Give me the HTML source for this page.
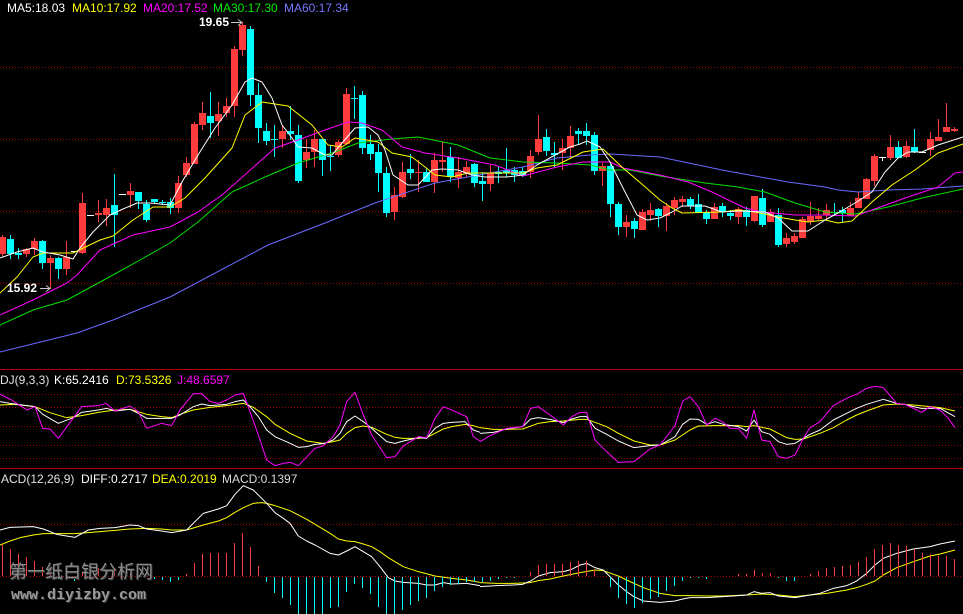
<!DOCTYPE html>
<html><head><meta charset="utf-8"><style>
html,body{margin:0;padding:0;background:#000;}
svg{display:block;}
text{font-family:"Liberation Sans","Noto Sans CJK SC",sans-serif;font-size:12px;}
</style></head><body>
<svg width="963" height="614" viewBox="0 0 963 614" xmlns="http://www.w3.org/2000/svg">
<rect width="963" height="614" fill="#000"/>
<g stroke="#a00000" stroke-width="1" stroke-dasharray="1 2" shape-rendering="crispEdges">
<line x1="0" y1="67.5" x2="963" y2="67.5"/>
<line x1="0" y1="139.5" x2="963" y2="139.5"/>
<line x1="0" y1="211.5" x2="963" y2="211.5"/>
<line x1="0" y1="283.5" x2="963" y2="283.5"/>
<line x1="0" y1="394.5" x2="963" y2="394.5"/>
<line x1="0" y1="407.5" x2="963" y2="407.5"/>
<line x1="0" y1="426.5" x2="963" y2="426.5"/>
<line x1="0" y1="445.5" x2="963" y2="445.5"/>
<line x1="0" y1="458.5" x2="963" y2="458.5"/>
<line x1="0" y1="524.5" x2="963" y2="524.5"/>
<line x1="0" y1="576.5" x2="963" y2="576.5"/>
</g>
<g stroke="#b80000" stroke-width="1" shape-rendering="crispEdges">
<line x1="0" y1="369.5" x2="963" y2="369.5"/>
<line x1="0" y1="468.5" x2="963" y2="468.5"/>
</g>
<g fill="#ff3c3c" shape-rendering="crispEdges">
<rect x="2" y="235" width="1" height="22"/><rect x="-1" y="237" width="7" height="17"/>
<rect x="26" y="248" width="1" height="9"/><rect x="23" y="249" width="7" height="5"/>
<rect x="34" y="238" width="1" height="17"/><rect x="31" y="241" width="7" height="8"/>
<rect x="50" y="255" width="1" height="34"/><rect x="47" y="258" width="7" height="5"/>
<rect x="66" y="241" width="1" height="34"/><rect x="63" y="257" width="7" height="12"/>
<rect x="82" y="193" width="1" height="61"/><rect x="79" y="203" width="7" height="50"/>
<rect x="98" y="200" width="1" height="22"/><rect x="95" y="213" width="7" height="2"/>
<rect x="106" y="199" width="1" height="27"/><rect x="103" y="208" width="7" height="7"/>
<rect x="130" y="183" width="1" height="25"/><rect x="127" y="191" width="7" height="4"/>
<rect x="178" y="176" width="1" height="37"/><rect x="175" y="183" width="7" height="25"/>
<rect x="186" y="157" width="1" height="20"/><rect x="183" y="163" width="7" height="12"/>
<rect x="194" y="122" width="1" height="42"/><rect x="191" y="124" width="7" height="40"/>
<rect x="202" y="102" width="1" height="28"/><rect x="199" y="113" width="7" height="12"/>
<rect x="218" y="102" width="1" height="34"/><rect x="215" y="114" width="7" height="7"/>
<rect x="226" y="98" width="1" height="19"/><rect x="223" y="106" width="7" height="7"/>
<rect x="234" y="46" width="1" height="71"/><rect x="231" y="49" width="7" height="57"/>
<rect x="242" y="22" width="1" height="34"/><rect x="239" y="25" width="7" height="25"/>
<rect x="282" y="126" width="1" height="22"/><rect x="279" y="131" width="7" height="8"/>
<rect x="306" y="139" width="1" height="29"/><rect x="303" y="152" width="7" height="8"/>
<rect x="314" y="130" width="1" height="37"/><rect x="311" y="139" width="7" height="13"/>
<rect x="338" y="140" width="1" height="17"/><rect x="335" y="142" width="7" height="13"/>
<rect x="346" y="88" width="1" height="57"/><rect x="343" y="94" width="7" height="50"/>
<rect x="394" y="187" width="1" height="33"/><rect x="391" y="195" width="7" height="17"/>
<rect x="402" y="162" width="1" height="36"/><rect x="399" y="172" width="7" height="25"/>
<rect x="418" y="160" width="1" height="32"/><rect x="415" y="172" width="7" height="1"/>
<rect x="434" y="153" width="1" height="40"/><rect x="431" y="160" width="7" height="22"/>
<rect x="442" y="142" width="1" height="30"/><rect x="439" y="160" width="7" height="2"/>
<rect x="458" y="157" width="1" height="31"/><rect x="455" y="172" width="7" height="6"/>
<rect x="466" y="161" width="1" height="16"/><rect x="463" y="167" width="7" height="6"/>
<rect x="490" y="165" width="1" height="26"/><rect x="487" y="173" width="7" height="11"/>
<rect x="530" y="150" width="1" height="28"/><rect x="527" y="156" width="7" height="16"/>
<rect x="538" y="115" width="1" height="40"/><rect x="535" y="139" width="7" height="13"/>
<rect x="562" y="139" width="1" height="31"/><rect x="559" y="148" width="7" height="5"/>
<rect x="570" y="126" width="1" height="32"/><rect x="567" y="136" width="7" height="12"/>
<rect x="602" y="163" width="1" height="23"/><rect x="599" y="166" width="7" height="5"/>
<rect x="626" y="215" width="1" height="22"/><rect x="623" y="222" width="7" height="5"/>
<rect x="642" y="209" width="1" height="21"/><rect x="639" y="212" width="7" height="18"/>
<rect x="650" y="203" width="1" height="18"/><rect x="647" y="210" width="7" height="5"/>
<rect x="666" y="203" width="1" height="28"/><rect x="663" y="206" width="7" height="10"/>
<rect x="674" y="197" width="1" height="18"/><rect x="671" y="200" width="7" height="8"/>
<rect x="682" y="196" width="1" height="11"/><rect x="679" y="199" width="7" height="3"/>
<rect x="714" y="203" width="1" height="16"/><rect x="711" y="207" width="7" height="12"/>
<rect x="738" y="207" width="1" height="17"/><rect x="735" y="209" width="7" height="8"/>
<rect x="754" y="196" width="1" height="26"/><rect x="751" y="196" width="7" height="25"/>
<rect x="770" y="209" width="1" height="13"/><rect x="767" y="212" width="7" height="10"/>
<rect x="786" y="233" width="1" height="14"/><rect x="783" y="238" width="7" height="6"/>
<rect x="794" y="233" width="1" height="11"/><rect x="791" y="236" width="7" height="6"/>
<rect x="802" y="217" width="1" height="21"/><rect x="799" y="219" width="7" height="19"/>
<rect x="810" y="202" width="1" height="23"/><rect x="807" y="216" width="7" height="6"/>
<rect x="818" y="208" width="1" height="12"/><rect x="815" y="216" width="7" height="3"/>
<rect x="826" y="204" width="1" height="16"/><rect x="823" y="210" width="7" height="5"/>
<rect x="850" y="202" width="1" height="14"/><rect x="847" y="208" width="7" height="8"/>
<rect x="858" y="192" width="1" height="16"/><rect x="855" y="198" width="7" height="10"/>
<rect x="866" y="178" width="1" height="21"/><rect x="863" y="179" width="7" height="20"/>
<rect x="874" y="154" width="1" height="32"/><rect x="871" y="156" width="7" height="25"/>
<rect x="890" y="135" width="1" height="25"/><rect x="887" y="147" width="7" height="11"/>
<rect x="906" y="141" width="1" height="17"/><rect x="903" y="146" width="7" height="11"/>
<rect x="930" y="132" width="1" height="24"/><rect x="927" y="139" width="7" height="11"/>
<rect x="938" y="119" width="1" height="22"/><rect x="935" y="137" width="7" height="4"/>
<rect x="946" y="103" width="1" height="29"/><rect x="943" y="127" width="7" height="5"/>
<rect x="954" y="127" width="1" height="5"/><rect x="951" y="129" width="7" height="2"/>
</g>
<g fill="#00ffff" shape-rendering="crispEdges">
<rect x="10" y="235" width="1" height="24"/><rect x="7" y="239" width="7" height="15"/>
<rect x="18" y="248" width="1" height="11"/><rect x="15" y="253" width="7" height="2"/>
<rect x="42" y="240" width="1" height="29"/><rect x="39" y="241" width="7" height="22"/>
<rect x="58" y="257" width="1" height="22"/><rect x="55" y="258" width="7" height="11"/>
<rect x="114" y="174" width="1" height="73"/><rect x="111" y="205" width="7" height="10"/>
<rect x="138" y="192" width="1" height="17"/><rect x="135" y="192" width="7" height="9"/>
<rect x="146" y="200" width="1" height="22"/><rect x="143" y="204" width="7" height="16"/>
<rect x="154" y="199" width="1" height="4"/><rect x="151" y="199" width="7" height="3"/>
<rect x="162" y="200" width="1" height="5"/><rect x="159" y="202" width="7" height="1"/>
<rect x="170" y="198" width="1" height="16"/><rect x="167" y="202" width="7" height="6"/>
<rect x="210" y="92" width="1" height="46"/><rect x="207" y="116" width="7" height="7"/>
<rect x="250" y="26" width="1" height="80"/><rect x="247" y="29" width="7" height="66"/>
<rect x="258" y="83" width="1" height="60"/><rect x="255" y="95" width="7" height="33"/>
<rect x="266" y="123" width="1" height="22"/><rect x="263" y="131" width="7" height="10"/>
<rect x="274" y="125" width="1" height="32"/><rect x="271" y="139" width="7" height="1"/>
<rect x="290" y="106" width="1" height="34"/><rect x="287" y="131" width="7" height="3"/>
<rect x="298" y="125" width="1" height="58"/><rect x="295" y="135" width="7" height="46"/>
<rect x="322" y="139" width="1" height="37"/><rect x="319" y="139" width="7" height="21"/>
<rect x="330" y="145" width="1" height="26"/><rect x="327" y="156" width="7" height="1"/>
<rect x="354" y="86" width="1" height="33"/><rect x="351" y="98" width="7" height="1"/>
<rect x="362" y="91" width="1" height="63"/><rect x="359" y="95" width="7" height="53"/>
<rect x="370" y="135" width="1" height="25"/><rect x="367" y="144" width="7" height="10"/>
<rect x="378" y="144" width="1" height="48"/><rect x="375" y="152" width="7" height="21"/>
<rect x="386" y="167" width="1" height="50"/><rect x="383" y="173" width="7" height="40"/>
<rect x="410" y="154" width="1" height="25"/><rect x="407" y="169" width="7" height="4"/>
<rect x="426" y="168" width="1" height="14"/><rect x="423" y="172" width="7" height="10"/>
<rect x="450" y="147" width="1" height="35"/><rect x="447" y="157" width="7" height="20"/>
<rect x="474" y="163" width="1" height="24"/><rect x="471" y="164" width="7" height="19"/>
<rect x="482" y="172" width="1" height="29"/><rect x="479" y="181" width="7" height="3"/>
<rect x="498" y="167" width="1" height="16"/><rect x="495" y="172" width="7" height="2"/>
<rect x="506" y="148" width="1" height="29"/><rect x="503" y="170" width="7" height="3"/>
<rect x="514" y="167" width="1" height="15"/><rect x="511" y="170" width="7" height="5"/>
<rect x="522" y="167" width="1" height="10"/><rect x="519" y="171" width="7" height="4"/>
<rect x="546" y="129" width="1" height="27"/><rect x="543" y="137" width="7" height="14"/>
<rect x="554" y="142" width="1" height="26"/><rect x="551" y="153" width="7" height="2"/>
<rect x="578" y="128" width="1" height="17"/><rect x="575" y="131" width="7" height="3"/>
<rect x="586" y="123" width="1" height="22"/><rect x="583" y="131" width="7" height="5"/>
<rect x="594" y="132" width="1" height="43"/><rect x="591" y="135" width="7" height="36"/>
<rect x="610" y="164" width="1" height="53"/><rect x="607" y="166" width="7" height="38"/>
<rect x="618" y="202" width="1" height="33"/><rect x="615" y="204" width="7" height="23"/>
<rect x="634" y="218" width="1" height="20"/><rect x="631" y="221" width="7" height="8"/>
<rect x="658" y="208" width="1" height="19"/><rect x="655" y="209" width="7" height="7"/>
<rect x="690" y="197" width="1" height="12"/><rect x="687" y="199" width="7" height="7"/>
<rect x="698" y="194" width="1" height="19"/><rect x="695" y="204" width="7" height="9"/>
<rect x="706" y="210" width="1" height="14"/><rect x="703" y="212" width="7" height="7"/>
<rect x="722" y="203" width="1" height="14"/><rect x="719" y="206" width="7" height="6"/>
<rect x="730" y="210" width="1" height="10"/><rect x="727" y="213" width="7" height="3"/>
<rect x="746" y="207" width="1" height="19"/><rect x="743" y="210" width="7" height="7"/>
<rect x="762" y="189" width="1" height="38"/><rect x="759" y="198" width="7" height="27"/>
<rect x="778" y="208" width="1" height="39"/><rect x="775" y="215" width="7" height="30"/>
<rect x="834" y="203" width="1" height="13"/><rect x="831" y="212" width="7" height="1"/>
<rect x="842" y="207" width="1" height="15"/><rect x="839" y="210" width="7" height="3"/>
<rect x="898" y="141" width="1" height="17"/><rect x="895" y="147" width="7" height="11"/>
<rect x="914" y="129" width="1" height="24"/><rect x="911" y="147" width="7" height="5"/>
</g>
<g fill="#ffffff" shape-rendering="crispEdges">
<rect x="71" y="251" width="7" height="1"/>
<rect x="87" y="215" width="7" height="1"/>
<rect x="119" y="194" width="7" height="1"/>
<rect x="882" y="157" width="1" height="4"/><rect x="879" y="157" width="7" height="1"/>
<rect x="919" y="152" width="7" height="1"/>
</g>
<g fill="none" stroke-width="1" stroke-linejoin="round">
<polyline stroke="#6a6aff" points="0,352 77,333 113,320 170,297 268,245 325,223 375,203 435,183 495,172 523,167 557,158 590,155 610,154 660,157 722,170 755,176 788,182 825,187 838,190 858,192 888,190 922,189 963,186"/>
<polyline stroke="#00e000" points="0,325 33,310 67,300 113,275 140,260 170,243 198,222 232,192 265,177 298,163 335,152 358,143 392,139 418,137 458,145 490,158 523,162 557,163 590,165 610,170 630,170 660,176 705,183 738,187 765,192 795,203 825,212 855,214 888,207 922,198 963,189"/>
<polyline stroke="#ff00ff" points="0,315 33,300 67,283 77,275 100,250 133,235 170,227 198,212 222,195 248,172 275,148 298,140 325,130 348,122 362,123 382,130 402,147 425,153 458,158 495,165 523,176 557,167 583,162 610,162 623,168 660,175 688,182 712,192 745,208 762,212 795,215 825,215 855,216 872,210 905,198 938,187 955,173 963,172"/>
<polyline stroke="#ffff00" points="0,293 17,277 33,257 43,253 73,253 100,240 113,236 133,220 153,207 170,207 185,198 205,178 232,148 245,115 262,102 288,106 312,125 328,145 342,147 355,138 378,142 392,153 412,157 425,167 435,175 452,177 468,173 495,173 523,173 537,168 557,165 583,152 603,149 623,168 643,185 660,200 672,208 682,213 722,212 738,210 755,212 778,217 795,220 808,222 825,220 838,223 852,221 872,202 892,185 915,170 938,153 963,144"/>
<polyline stroke="#ffffff" points="0,258 17,252 33,248 43,252 60,255 73,259 80,248 93,232 110,215 123,209 137,203 150,203 170,205 182,182 198,155 215,128 232,105 245,82 252,78 262,82 272,98 282,125 292,138 298,147 312,148 325,155 332,155 342,143 355,128 368,127 378,135 385,150 393,175 408,185 418,185 432,170 442,169 458,170 472,175 485,177 495,177 507,177 523,175 537,165 557,154 570,147 580,144 587,141 600,147 610,162 623,188 637,215 647,220 660,218 672,212 682,206 705,206 722,212 738,211 765,212 778,218 792,231 808,231 825,220 838,213 855,203 872,192 885,172 898,158 908,152 922,152 938,145 963,137"/>
</g>
<text x="199" y="26" fill="#ffffff" font-weight="bold">19.65</text>
<g stroke="#c8c8c8" stroke-width="1" fill="none">
<line x1="231" y1="22.5" x2="242" y2="22.5"/><polyline points="238,19.5 242,22.5 238,25.5"/>
<line x1="40" y1="288.5" x2="50" y2="288.5"/><polyline points="46,285.5 50,288.5 46,291.5"/>
</g>
<text x="7" y="292" fill="#ffffff" font-weight="bold">15.92</text>
<text x="7" y="12" fill="#ffffff">MA5:18.03</text>
<text x="72" y="12" fill="#ffff00">MA10:17.92</text>
<text x="143" y="12" fill="#ff00ff">MA20:17.52</text>
<text x="213" y="12" fill="#00ee00">MA30:17.30</text>
<text x="284" y="12" fill="#7878ff">MA60:17.34</text>
<text x="-8" y="384" fill="#e0e0e0">KDJ(9,3,3)</text>
<text x="54" y="384" fill="#ffffff">K:65.2416</text>
<text x="116" y="384" fill="#ffff00">D:73.5326</text>
<text x="177" y="384" fill="#ff00ff">J:48.6597</text>
<g fill="none" stroke-linejoin="round">
<g transform="translate(0,375) scale(0.333333)">
<polyline vector-effect="non-scaling-stroke" stroke="#ffff00" stroke-width="1" points="0,90 40,88 80,92 105,95 150,113 200,128 245,122 295,112 345,105 390,103 440,118 485,125 515,128 540,118 580,105 630,97 680,92 730,85 760,97 800,125 825,148 870,175 920,198 970,205 1000,200 1020,195 1040,175 1065,158 1090,153 1115,157 1160,178 1185,187 1210,190 1255,190 1280,188 1305,175 1330,162 1355,155 1395,148 1420,152 1440,158"/>
<polyline vector-effect="non-scaling-stroke" stroke="#ffffff" stroke-width="1" points="0,80 30,85 80,92 105,95 128,118 175,145 220,128 245,112 295,105 320,100 345,108 390,103 415,115 440,130 485,130 515,130 540,120 580,95 605,87 630,92 680,88 705,80 730,75 750,95 775,125 800,165 825,185 870,205 895,217 920,215 945,208 970,206 1000,195 1020,175 1040,140 1065,123 1090,140 1115,160 1160,200 1185,205 1210,198 1255,188 1280,190 1305,160 1330,145 1355,142 1395,140 1420,165 1440,172"/>
<polyline vector-effect="non-scaling-stroke" stroke="#ff00ff" stroke-width="1" points="0,58 35,75 80,105 105,95 128,160 150,162 175,190 245,95 295,92 318,85 345,108 390,93 415,110 440,160 485,145 515,152 540,105 580,56 605,56 630,80 655,85 680,75 705,60 730,55 750,110 775,180 800,255 825,272 850,265 870,262 895,272 945,220 970,212 1000,185 1020,150 1040,80 1065,52 1090,120 1115,180 1160,248 1185,245 1210,213 1255,185 1280,188 1305,130 1330,95 1355,105 1400,125 1420,185 1440,198"/>
<polyline vector-effect="non-scaling-stroke" stroke="#ffff00" stroke-width="1" points="0,510 30,498 60,488 100,480 130,476 175,476 225,476 265,473 300,470 345,466 390,462 440,460 485,462 515,465 560,465 610,450 655,438 680,428 705,412 730,398 760,385 785,383 800,385 825,392 870,407 920,433 945,448 990,475 1015,492 1040,498 1065,500 1090,507 1115,515 1140,530 1165,548 1185,560 1210,575 1255,590 1305,603 1355,610 1400,615 1440,622"/>
<polyline vector-effect="non-scaling-stroke" stroke="#ffffff" stroke-width="1" points="0,465 30,457 100,455 130,462 170,478 225,487 265,465 300,460 345,458 390,450 415,452 440,462 485,468 515,473 560,465 610,415 655,402 680,392 705,358 730,332 760,345 800,385 825,413 850,430 870,445 895,483 920,498 945,510 990,535 1015,540 1040,528 1065,515 1090,530 1115,545 1140,575 1165,608 1185,618 1210,622 1255,625 1280,630 1305,630 1330,623 1355,627 1400,625 1440,632"/>
</g>
<g transform="translate(480,375) scale(0.333333)">
<polyline vector-effect="non-scaling-stroke" stroke="#ffff00" stroke-width="1" points="0,158 40,163 80,163 128,162 175,145 210,140 250,138 300,133 320,133 345,142 380,155 415,175 462,198 510,210 540,210 585,195 630,165 655,153 705,152 775,152 800,155 822,152 870,162 895,175 920,188 945,193 970,192 1020,175 1060,158 1100,135 1130,120 1160,108 1210,90 1250,87 1300,90 1350,95 1380,98 1425,108"/>
<polyline vector-effect="non-scaling-stroke" stroke="#ffffff" stroke-width="1" points="0,175 40,172 80,162 128,155 152,132 175,128 210,133 250,143 275,132 300,125 320,125 345,160 380,178 415,198 462,218 510,212 540,210 585,185 608,148 630,132 655,133 680,148 705,140 730,148 775,155 800,168 822,135 845,170 870,178 895,200 920,208 945,205 970,190 990,178 1020,165 1060,135 1100,115 1130,100 1160,88 1210,73 1250,85 1275,88 1300,95 1325,100 1350,100 1380,100 1425,125"/>
<polyline vector-effect="non-scaling-stroke" stroke="#ff00ff" stroke-width="1" points="0,200 30,182 80,160 128,155 152,100 175,95 210,120 250,150 275,125 300,112 320,112 345,195 380,230 415,262 462,260 510,222 540,210 585,152 608,78 630,65 655,95 680,150 705,130 730,142 750,160 775,160 800,190 822,105 845,195 870,200 895,245 920,250 945,240 970,190 990,158 1020,140 1060,92 1100,70 1130,58 1160,40 1185,34 1210,38 1250,85 1275,88 1300,100 1325,112 1350,95 1380,105 1405,130 1425,158"/>
<polyline vector-effect="non-scaling-stroke" stroke="#ffff00" stroke-width="1" points="0,623 50,625 100,625 150,623 175,617 210,612 250,603 300,593 345,585 370,587 415,603 440,615 490,638 540,655 585,662 630,662 680,663 730,663 800,660 845,657 895,660 945,665 990,660 1040,655 1100,645 1130,638 1160,628 1185,618 1210,600 1250,578 1300,560 1350,543 1380,537 1425,525"/>
<polyline vector-effect="non-scaling-stroke" stroke="#ffffff" stroke-width="1" points="0,635 50,632 100,630 128,628 152,618 175,603 210,593 250,590 275,583 300,570 320,565 345,578 370,585 415,630 440,650 462,665 490,678 540,682 585,678 608,672 630,668 680,668 730,665 775,662 800,660 822,650 845,655 870,653 895,663 945,668 990,660 1020,655 1060,640 1100,632 1130,618 1160,595 1185,570 1210,550 1250,535 1300,522 1350,515 1380,507 1425,498"/>
</g>
</g>
<text x="-9" y="483" fill="#e0e0e0">MACD(12,26,9)</text>
<text x="81" y="483" fill="#ffffff">DIFF:0.2717</text>
<text x="152" y="483" fill="#ffff00">DEA:0.2019</text>
<text x="222" y="483" fill="#d8d8d8">MACD:0.1397</text>
<g fill="#ff3c3c" shape-rendering="crispEdges">
<rect x="2" y="545" width="1" height="31"/>
<rect x="10" y="549" width="1" height="27"/>
<rect x="18" y="554" width="1" height="22"/>
<rect x="26" y="557" width="1" height="19"/>
<rect x="34" y="561" width="1" height="15"/>
<rect x="42" y="567" width="1" height="9"/>
<rect x="50" y="572" width="1" height="4"/>
<rect x="82" y="572" width="1" height="4"/>
<rect x="90" y="570" width="1" height="6"/>
<rect x="98" y="568" width="1" height="8"/>
<rect x="106" y="570" width="1" height="6"/>
<rect x="114" y="570" width="1" height="6"/>
<rect x="122" y="572" width="1" height="4"/>
<rect x="130" y="573" width="1" height="3"/>
<rect x="138" y="575" width="1" height="1"/>
<rect x="186" y="574" width="1" height="2"/>
<rect x="194" y="563" width="1" height="13"/>
<rect x="202" y="554" width="1" height="22"/>
<rect x="210" y="553" width="1" height="23"/>
<rect x="218" y="553" width="1" height="23"/>
<rect x="226" y="553" width="1" height="23"/>
<rect x="234" y="543" width="1" height="33"/>
<rect x="242" y="533" width="1" height="43"/>
<rect x="250" y="547" width="1" height="29"/>
<rect x="258" y="566" width="1" height="10"/>
<rect x="530" y="572" width="1" height="4"/>
<rect x="538" y="565" width="1" height="11"/>
<rect x="546" y="564" width="1" height="12"/>
<rect x="554" y="564" width="1" height="12"/>
<rect x="562" y="564" width="1" height="12"/>
<rect x="570" y="562" width="1" height="14"/>
<rect x="578" y="561" width="1" height="15"/>
<rect x="586" y="561" width="1" height="15"/>
<rect x="594" y="570" width="1" height="6"/>
<rect x="738" y="574" width="1" height="2"/>
<rect x="746" y="574" width="1" height="2"/>
<rect x="754" y="570" width="1" height="6"/>
<rect x="762" y="573" width="1" height="3"/>
<rect x="770" y="573" width="1" height="3"/>
<rect x="810" y="574" width="1" height="2"/>
<rect x="818" y="571" width="1" height="5"/>
<rect x="826" y="568" width="1" height="8"/>
<rect x="834" y="567" width="1" height="9"/>
<rect x="842" y="566" width="1" height="10"/>
<rect x="850" y="565" width="1" height="11"/>
<rect x="858" y="562" width="1" height="14"/>
<rect x="866" y="557" width="1" height="19"/>
<rect x="874" y="549" width="1" height="27"/>
<rect x="882" y="545" width="1" height="31"/>
<rect x="890" y="543" width="1" height="33"/>
<rect x="898" y="545" width="1" height="31"/>
<rect x="906" y="546" width="1" height="30"/>
<rect x="914" y="549" width="1" height="27"/>
<rect x="922" y="553" width="1" height="23"/>
<rect x="930" y="554" width="1" height="22"/>
<rect x="938" y="556" width="1" height="20"/>
<rect x="946" y="556" width="1" height="20"/>
<rect x="954" y="559" width="1" height="17"/>
</g>
<g fill="#00ffff" shape-rendering="crispEdges">
<rect x="58" y="577" width="1" height="2"/>
<rect x="66" y="577" width="1" height="2"/>
<rect x="74" y="577" width="1" height="4"/>
<rect x="154" y="577" width="1" height="2"/>
<rect x="162" y="577" width="1" height="3"/>
<rect x="170" y="577" width="1" height="5"/>
<rect x="178" y="577" width="1" height="3"/>
<rect x="266" y="577" width="1" height="5"/>
<rect x="274" y="577" width="1" height="16"/>
<rect x="282" y="577" width="1" height="21"/>
<rect x="290" y="577" width="1" height="28"/>
<rect x="298" y="577" width="1" height="37"/>
<rect x="306" y="577" width="1" height="37"/>
<rect x="314" y="577" width="1" height="37"/>
<rect x="322" y="577" width="1" height="37"/>
<rect x="330" y="577" width="1" height="31"/>
<rect x="338" y="577" width="1" height="30"/>
<rect x="346" y="577" width="1" height="15"/>
<rect x="354" y="577" width="1" height="7"/>
<rect x="362" y="577" width="1" height="11"/>
<rect x="370" y="577" width="1" height="17"/>
<rect x="378" y="577" width="1" height="30"/>
<rect x="386" y="577" width="1" height="37"/>
<rect x="394" y="577" width="1" height="37"/>
<rect x="402" y="577" width="1" height="33"/>
<rect x="410" y="577" width="1" height="28"/>
<rect x="418" y="577" width="1" height="24"/>
<rect x="426" y="577" width="1" height="21"/>
<rect x="434" y="577" width="1" height="14"/>
<rect x="442" y="577" width="1" height="10"/>
<rect x="450" y="577" width="1" height="8"/>
<rect x="458" y="577" width="1" height="7"/>
<rect x="466" y="577" width="1" height="5"/>
<rect x="474" y="577" width="1" height="5"/>
<rect x="482" y="577" width="1" height="5"/>
<rect x="490" y="577" width="1" height="4"/>
<rect x="498" y="577" width="1" height="2"/>
<rect x="506" y="577" width="1" height="1"/>
<rect x="514" y="577" width="1" height="1"/>
<rect x="610" y="577" width="1" height="10"/>
<rect x="618" y="577" width="1" height="21"/>
<rect x="626" y="577" width="1" height="27"/>
<rect x="634" y="577" width="1" height="31"/>
<rect x="642" y="577" width="1" height="26"/>
<rect x="650" y="577" width="1" height="22"/>
<rect x="658" y="577" width="1" height="20"/>
<rect x="666" y="577" width="1" height="14"/>
<rect x="674" y="577" width="1" height="9"/>
<rect x="682" y="577" width="1" height="4"/>
<rect x="690" y="577" width="1" height="1"/>
<rect x="698" y="577" width="1" height="1"/>
<rect x="706" y="577" width="1" height="2"/>
<rect x="778" y="577" width="1" height="1"/>
<rect x="786" y="577" width="1" height="4"/>
<rect x="794" y="577" width="1" height="4"/>
</g>
<text x="10" y="579" fill="#3a3a3a" style="font-family:'Noto Sans CJK SC',sans-serif;font-size:18px;">第一纸白银分析网</text>
<text x="9" y="578" fill="#8c8c8c" style="font-family:'Noto Sans CJK SC',sans-serif;font-size:18px;">第一纸白银分析网</text>
<text x="12" y="600" fill="#3a3a3a" style="font-family:'Liberation Mono',monospace;font-size:15px;font-weight:bold;">www.diyizby.com</text>
<text x="11" y="599" fill="#9a9a9a" style="font-family:'Liberation Mono',monospace;font-size:15px;font-weight:bold;">www.diyizby.com</text>
</svg>
</body></html>
